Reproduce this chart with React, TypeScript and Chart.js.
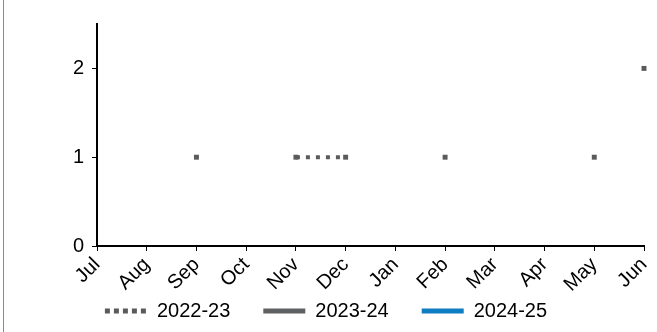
import React, { useEffect, useRef } from "react";
import { Chart, registerables } from "chart.js";

Chart.register(...registerables);

const months = ["Jul", "Aug", "Sep", "Oct", "Nov", "Dec", "Jan", "Feb", "Mar", "Apr", "May", "Jun"];
const series2022 = [null, null, 1, null, 1, 1, null, 1, null, null, 1, null];
const series2023 = [null, null, null, null, null, null, null, null, null, null, null, 2];
const series2024 = [null, null, null, null, null, null, null, null, null, null, null, null];
const yTicks = [0, 1, 2];
const yMax = 2.5;

const FONT = "'Liberation Sans', Arial, sans-serif";
const GREY = "#5a5b5d";

const unclipX = {
  id: "unclipX",
  afterLayout(chart: any) {
    const x = chart.scales.x;
    if (x) x.bottom = chart.height;
  },
};

export default function App() {
  const ref = useRef<HTMLCanvasElement | null>(null);

  useEffect(() => {
    if (!ref.current) return;
    const chart = new Chart(ref.current, {
      type: "line",
      plugins: [unclipX],
      data: {
        labels: months,
        datasets: [
          {
            label: "2022-23",
            data: series2022,
            borderColor: GREY,
            backgroundColor: GREY,
            borderWidth: 4,
            borderDash: [4, 6],
            borderCapStyle: "butt",
            pointStyle: "rect",
            pointRadius: 3.5,
            pointBorderWidth: 0,
            pointBackgroundColor: GREY,
            spanGaps: false,
          },
          {
            label: "2023-24",
            data: series2023,
            borderColor: "#5f6062",
            backgroundColor: "#5f6062",
            borderWidth: 4,
            pointStyle: "rect",
            pointRadius: 3.5,
            pointBorderWidth: 0,
            pointBackgroundColor: GREY,
          },
          {
            label: "2024-25",
            data: series2024,
            borderColor: "#0f7dc2",
            backgroundColor: "#0f7dc2",
            borderWidth: 4,
            pointRadius: 0,
          },
        ],
      },
      options: {
        animation: false,
        responsive: false,
        layout: { padding: { left: 8, right: 13, top: 24, bottom: 1 } },
        plugins: {
          tooltip: { enabled: false },
          legend: {
            position: "bottom",
            labels: {
              usePointStyle: true,
              pointStyleWidth: 42,
              padding: 33,
              color: "#000",
              font: { family: FONT, size: 20 },
              generateLabels: (c: any) =>
                c.data.datasets.map((ds: any, i: number) => ({
                  text: ds.label,
                  strokeStyle: ds.borderColor,
                  fillStyle: ds.borderColor,
                  lineWidth: 5,
                  lineDash: i === 0 ? [5, 4] : [],
                  lineCap: "butt",
                  pointStyle: "line",
                  hidden: false,
                  datasetIndex: i,
                  fontColor: "#000",
                })),
            },
          },
        },
        scales: {
          x: {
            offset: false,
            afterFit: (s: any) => {
              s.height = 22;
              s.paddingRight = 0;
              s.paddingLeft = 0;
            },
            border: { display: true, color: "#000", width: 2 },
            grid: {
              display: true,
              drawOnChartArea: false,
              drawTicks: true,
              tickLength: 5,
              color: "#000",
              lineWidth: 1,
              offset: false,
            },
            ticks: {
              autoSkip: false,
              maxRotation: 45,
              minRotation: 45,
              padding: 2,
              color: "#000",
              font: { family: FONT, size: 20 },
            },
          },
          y: {
            min: 0,
            max: yMax,
            afterFit: (s: any) => {
              s.width = 89;
            },
            afterBuildTicks: (s: any) => {
              s.ticks = yTicks.map((v) => ({ value: v }));
            },
            border: { display: true, color: "#000", width: 2 },
            grid: {
              display: true,
              drawOnChartArea: false,
              drawTicks: true,
              tickLength: 5,
              color: "#000",
              lineWidth: 1,
            },
            ticks: {
              padding: 8,
              color: "#000",
              font: { family: FONT, size: 20 },
            },
          },
        },
      },
    });
    return () => chart.destroy();
  }, []);

  return (
    <div style={{ position: "fixed", left: 0, top: 0, width: 657, height: 332, background: "#fff" }}>
      <div style={{ position: "absolute", left: 3, top: 0, width: 1, height: 332, background: "#8a8a8a" }} />
      <canvas ref={ref} width={657} height={332} style={{ position: "absolute", left: 0, top: 0, width: 657, height: 332 }} />
    </div>
  );
}
